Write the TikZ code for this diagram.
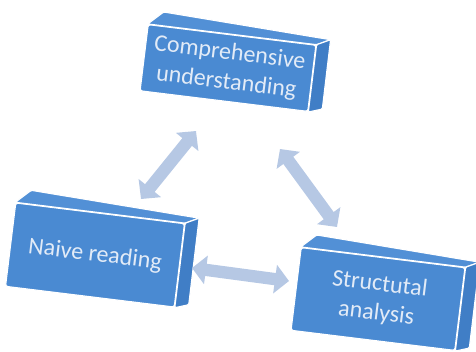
\documentclass[tikz,border=0pt]{standalone}
\usepackage{fontspec}
\setmainfont{Carlito}
\usetikzlibrary{calc,arrows.meta}

\definecolor{boxblue}{RGB}{74,138,210}
\definecolor{boxtop}{RGB}{82,144,214}
\definecolor{boxside}{RGB}{64,126,198}
\definecolor{arrowgray}{RGB}{182,200,228}
\definecolor{textwhite}{RGB}{226,235,247}

\tikzset{
	frontface/.style={draw=white, line width=1pt, fill=boxblue, rounded corners=2pt,
		rotate=-7, text=textwhite, align=center, inner sep=0pt,
		font=\fontsize{20.5}{25}\selectfont},
	face/.style={draw=white, line width=1pt, fill=#1, rounded corners=1pt},
	twoway/.style={draw=arrowgray, line width=10.5pt,
		{Triangle[length=12pt,width=24pt]}-{Triangle[length=12pt,width=24pt]}},
}

\begin{document}
\begin{tikzpicture}[x=0.03cm,y=-0.03cm]
	\useasboundingbox (0,0) rectangle (476,351);
	\clip (0,0) rectangle (476,351);
	
	% front faces
	\node[frontface, minimum width=5.07cm, minimum height=2cm] (comp) at (228,68)
		{Comprehensive\\understanding};
	\node[frontface, minimum width=5.1cm, minimum height=2.52cm] (naive) at (95,255)
		{Naive reading};
	\node[frontface, minimum width=4.95cm, minimum height=2.5cm] (struct) at (378,299)
		{Structutal\\analysis};
	
	% top and side faces
	\foreach \n in {comp,naive,struct}{
		\draw[face=boxtop] (\n.north west) -- ++(16,-12)
			-- ($(\n.north east)+(14,-5)$) -- (\n.north east) -- cycle;
		\draw[face=boxside] (\n.north east) -- ++(14,-5)
			-- ($(\n.south east)+(14,-3)$) -- (\n.south east) -- cycle;
	}
	
	% arrow ends
	\coordinate (cn1) at (141,199);
	\coordinate (cn2) at (196,131);
	\coordinate (cs1) at (280,149);
	\coordinate (cs2) at (337,227);
	\coordinate (ns1) at (192,268);
	\coordinate (ns2) at (289,281);
	
	\draw[twoway] (cn1) -- (cn2);
	\draw[twoway] (cs1) -- (cs2);
	\draw[twoway] (ns1) -- (ns2);
\end{tikzpicture}
\end{document}
